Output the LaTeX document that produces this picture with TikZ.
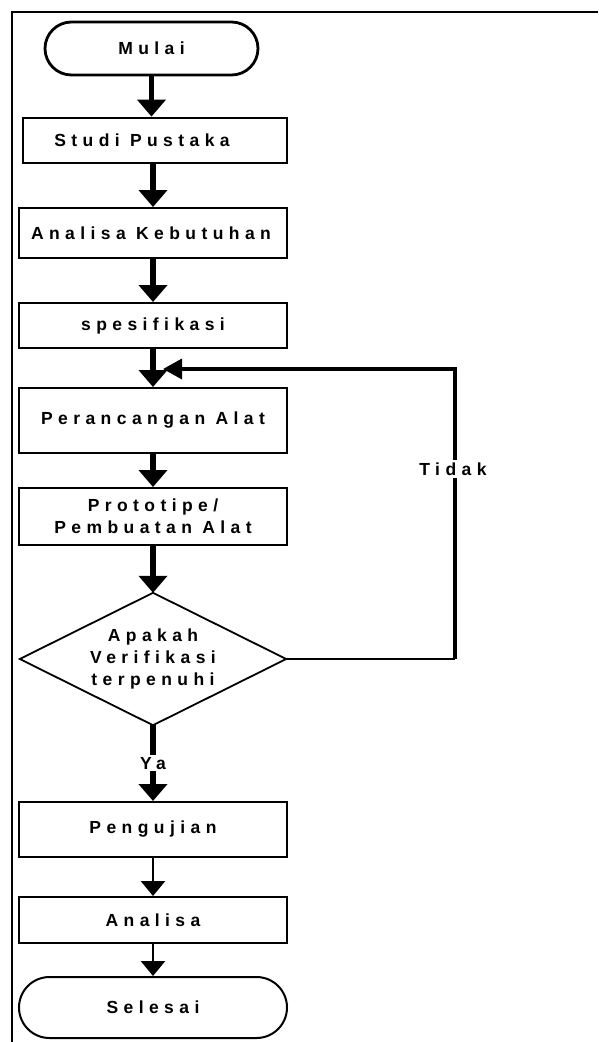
\documentclass[tikz,border=0pt]{standalone}
\usepackage{fontspec}
\usetikzlibrary{arrows.meta,shapes.misc}
\newfontfamily\lblfont{Liberation Sans}[LetterSpace=31]
\begin{document}
\begin{tikzpicture}[x=1pt,y=-1pt,
  lbl/.style={font=\lblfont\bfseries\fontsize{17.5}{22}\selectfont, align=center, inner sep=0pt},
  box/.style={lbl, draw, line width=2pt, minimum width=268pt},
  term/.style={lbl, draw, rounded rectangle, line width=2pt},
  flow/.style={line width=5.5pt, -{Triangle[width=28pt,length=17pt]}},
  thinflow/.style={line width=2.6pt, -{Triangle[width=24pt,length=15pt]}},
  back/.style={line width=3.5pt, -{Triangle[width=20pt,length=19pt]}}
]
\useasboundingbox (0,0) rectangle (598,1042);
\draw[line width=2.4pt] (12,1042) -- (12,12) -- (598,12);

\node[term, line width=2.8pt, minimum width=213pt, minimum height=53pt] (mulai) at (151.5,48.5) {Mulai};
\node[box, line width=2.8pt, minimum width=264pt, minimum height=45pt] (studi) at (155,140.5) {Studi Pustaka\kern 26pt};
\node[box, minimum height=50pt] (kebutuhan) at (153,233) {\kern-4pt Analisa Kebutuhan};
\node[box, minimum height=45pt] (spek) at (153,325.5) {spesifikasi};
\node[box, minimum height=65pt] (rancang) at (153,420.5) {Perancangan Alat};
\node[box, minimum height=57pt] (proto) at (153,516.5) {Prototipe/\\Pembuatan Alat};
\node[lbl, minimum width=266pt, minimum height=132pt] (dec) at (153,659) {Apakah\\Verifikasi\\terpenuhi};
\draw[line width=1.8pt] (dec.north) -- (dec.east) -- (dec.south) -- (dec.west) -- cycle;
\node[box, minimum height=55pt] (uji) at (153,829.5) {Pengujian};
\node[box, minimum height=46pt] (analisa) at (153,920) {Analisa};
\node[term, minimum width=268pt, minimum height=61pt] (selesai) at (153,1007.5) {Selesai};

\draw[flow] (mulai.south) -- (mulai.south |- studi.north);
\draw[flow] (studi.south -| kebutuhan.north) -- (kebutuhan.north);
\draw[flow] (kebutuhan.south) -- (spek.north);
\draw[flow] (spek.south) -- (rancang.north);
\draw[flow] (rancang.south) -- (proto.north);
\draw[flow] (proto.south) -- (dec.north);
\draw[flow] (dec.south) -- node[lbl, fill=white, inner sep=2pt] (ya) {Ya} (uji.north);
\draw[thinflow] (uji.south) -- (analisa.north);
\draw[thinflow] (analisa.south) -- (selesai.north);

\coordinate (fbR) at (455,369);
\coordinate (fbT) at (163,369);
\coordinate (fbB) at (dec.east -| fbR);
\draw[line width=2.6pt] (dec.east) -- (fbB);
\draw[line width=4.5pt] (fbB) -- ([yshift=-1.7pt]fbR);
\draw[back] ([xshift=2.25pt]fbR) -- (fbT);
\node[lbl, fill=white, inner sep=3pt] (tidak) at (453,469) {Tidak};
\end{tikzpicture}
\end{document}
